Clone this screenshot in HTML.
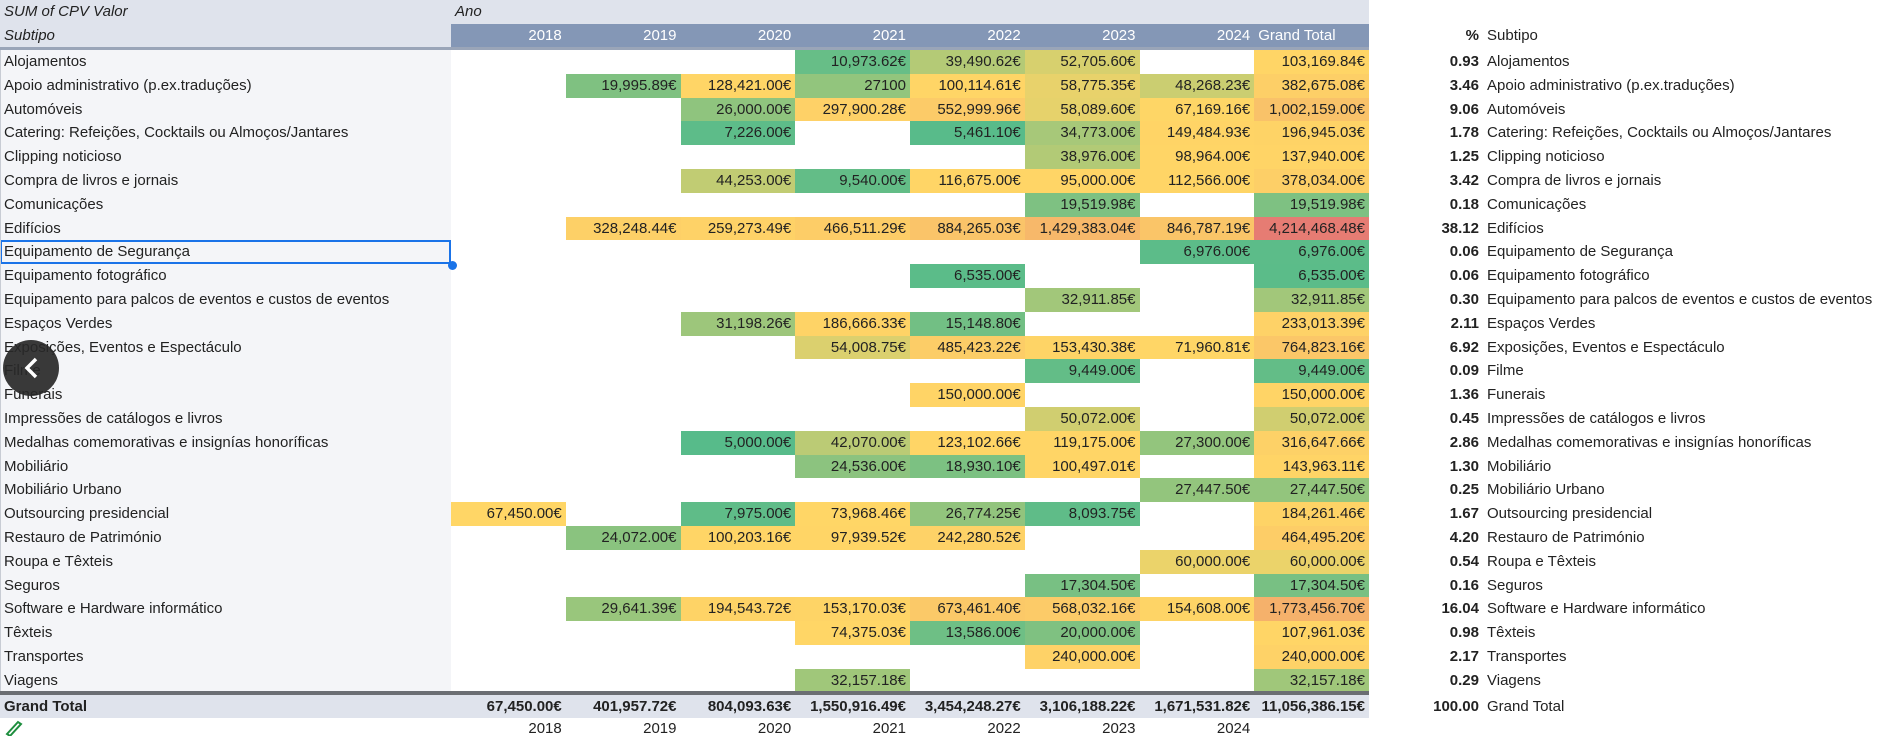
<!DOCTYPE html>
<html><head><meta charset="utf-8">
<style>
*{margin:0;padding:0;box-sizing:border-box}
body{width:1886px;height:736px;background:#fff;position:relative;overflow:hidden;font-family:"Liberation Sans",Arial,sans-serif;font-size:15px;color:#222}
.abs{position:absolute}
.hdr{background:#dfe3ec}
.row{position:absolute;left:0;height:23.8px;display:flex;align-items:center;white-space:nowrap}
.lab{width:451px;height:100%;padding-left:4px;line-height:23.8px;background:#f4f5f8}
.c{width:114.75px;height:100%;text-align:right;padding-right:4px;line-height:23.8px}
.p{position:absolute;left:1380px;width:99px;text-align:right;font-weight:bold;line-height:23.8px}
.s{position:absolute;left:1487px;line-height:23.8px}
.yh{position:absolute;top:24px;height:24px;width:114.75px;text-align:right;padding-right:4px;color:#fff;line-height:24px}
.by{position:absolute;top:718px;height:22px;width:114.75px;text-align:right;padding-right:4px;line-height:22px}
</style></head><body>
<div class="abs hdr" style="left:0;top:0;width:1369px;height:48px"></div>
<div class="abs" style="left:451px;top:24px;width:918px;height:24px;background:#8497b6"></div>
<div class="abs" style="left:0;top:47px;width:1369px;height:3px;background:#9aa5b8"></div>
<div class="abs" style="left:4px;top:0;line-height:24px;font-style:italic">SUM of CPV Valor</div>
<div class="abs" style="left:455px;top:0;line-height:24px;font-style:italic">Ano</div>
<div class="abs" style="left:4px;top:24px;line-height:24px;font-style:italic">Subtipo</div>
<div class="yh" style="left:451px">2018</div>
<div class="yh" style="left:565.75px">2019</div>
<div class="yh" style="left:680.5px">2020</div>
<div class="yh" style="left:795.25px">2021</div>
<div class="yh" style="left:910px">2022</div>
<div class="yh" style="left:1024.75px">2023</div>
<div class="yh" style="left:1139.5px">2024</div>
<div class="yh" style="left:1254.25px;text-align:left;padding-left:4px">Grand Total</div>
<div class="abs" style="left:1380px;top:24px;width:99px;text-align:right;font-weight:bold;line-height:24px">%</div>
<div class="abs" style="left:1487px;top:24px;line-height:24px">Subtipo</div>

<div id="rows" class="abs" style="left:0;top:50px;width:1886px;height:643px">
<div class="row" style="top:0px"><div class="lab">Alojamentos</div><div class="c"></div><div class="c"></div><div class="c"></div><div class="c" data-v="10973.62">10,973.62€</div><div class="c" data-v="39490.62">39,490.62€</div><div class="c" data-v="52705.60">52,705.60€</div><div class="c"></div><div class="c" data-v="103169.84">103,169.84€</div><span class="p">0.93</span><span class="s">Alojamentos</span></div>
<div class="row" style="top:23.8px"><div class="lab">Apoio administrativo (p.ex.traduções)</div><div class="c"></div><div class="c" data-v="19995.89">19,995.89€</div><div class="c" data-v="128421">128,421.00€</div><div class="c" data-v="27100">27100</div><div class="c" data-v="100114.61">100,114.61€</div><div class="c" data-v="58775.35">58,775.35€</div><div class="c" data-v="48268.23">48,268.23€</div><div class="c" data-v="382675.08">382,675.08€</div><span class="p">3.46</span><span class="s">Apoio administrativo (p.ex.traduções)</span></div>
<div class="row" style="top:47.6px"><div class="lab">Automóveis</div><div class="c"></div><div class="c"></div><div class="c" data-v="26000">26,000.00€</div><div class="c" data-v="297900.28">297,900.28€</div><div class="c" data-v="552999.96">552,999.96€</div><div class="c" data-v="58089.60">58,089.60€</div><div class="c" data-v="67169.16">67,169.16€</div><div class="c" data-v="1002159">1,002,159.00€</div><span class="p">9.06</span><span class="s">Automóveis</span></div>
<div class="row" style="top:71.4px"><div class="lab">Catering: Refeições, Cocktails ou Almoços/Jantares</div><div class="c"></div><div class="c"></div><div class="c" data-v="7226">7,226.00€</div><div class="c"></div><div class="c" data-v="5461.10">5,461.10€</div><div class="c" data-v="34773">34,773.00€</div><div class="c" data-v="149484.93">149,484.93€</div><div class="c" data-v="196945.03">196,945.03€</div><span class="p">1.78</span><span class="s">Catering: Refeições, Cocktails ou Almoços/Jantares</span></div>
<div class="row" style="top:95.2px"><div class="lab">Clipping noticioso</div><div class="c"></div><div class="c"></div><div class="c"></div><div class="c"></div><div class="c"></div><div class="c" data-v="38976">38,976.00€</div><div class="c" data-v="98964">98,964.00€</div><div class="c" data-v="137940">137,940.00€</div><span class="p">1.25</span><span class="s">Clipping noticioso</span></div>
<div class="row" style="top:119px"><div class="lab">Compra de livros e jornais</div><div class="c"></div><div class="c"></div><div class="c" data-v="44253">44,253.00€</div><div class="c" data-v="9540">9,540.00€</div><div class="c" data-v="116675">116,675.00€</div><div class="c" data-v="95000">95,000.00€</div><div class="c" data-v="112566">112,566.00€</div><div class="c" data-v="378034">378,034.00€</div><span class="p">3.42</span><span class="s">Compra de livros e jornais</span></div>
<div class="row" style="top:142.8px"><div class="lab">Comunicações</div><div class="c"></div><div class="c"></div><div class="c"></div><div class="c"></div><div class="c"></div><div class="c" data-v="19519.98">19,519.98€</div><div class="c"></div><div class="c" data-v="19519.98">19,519.98€</div><span class="p">0.18</span><span class="s">Comunicações</span></div>
<div class="row" style="top:166.6px"><div class="lab">Edifícios</div><div class="c"></div><div class="c" data-v="328248.44">328,248.44€</div><div class="c" data-v="259273.49">259,273.49€</div><div class="c" data-v="466511.29">466,511.29€</div><div class="c" data-v="884265.03">884,265.03€</div><div class="c" data-v="1429383.04">1,429,383.04€</div><div class="c" data-v="846787.19">846,787.19€</div><div class="c" data-v="4214468.48">4,214,468.48€</div><span class="p">38.12</span><span class="s">Edifícios</span></div>
<div class="row" style="top:190.4px"><div class="lab" style="box-shadow:inset 0 0 0 2px #1a73e8">Equipamento de Segurança</div><div class="c"></div><div class="c"></div><div class="c"></div><div class="c"></div><div class="c"></div><div class="c"></div><div class="c" data-v="6976">6,976.00€</div><div class="c" data-v="6976">6,976.00€</div><span class="p">0.06</span><span class="s">Equipamento de Segurança</span></div>
<div class="row" style="top:214.2px"><div class="lab">Equipamento fotográfico</div><div class="c"></div><div class="c"></div><div class="c"></div><div class="c"></div><div class="c" data-v="6535">6,535.00€</div><div class="c"></div><div class="c"></div><div class="c" data-v="6535">6,535.00€</div><span class="p">0.06</span><span class="s">Equipamento fotográfico</span></div>
<div class="row" style="top:238px"><div class="lab">Equipamento para palcos de eventos e custos de eventos</div><div class="c"></div><div class="c"></div><div class="c"></div><div class="c"></div><div class="c"></div><div class="c" data-v="32911.85">32,911.85€</div><div class="c"></div><div class="c" data-v="32911.85">32,911.85€</div><span class="p">0.30</span><span class="s">Equipamento para palcos de eventos e custos de eventos</span></div>
<div class="row" style="top:261.8px"><div class="lab">Espaços Verdes</div><div class="c"></div><div class="c"></div><div class="c" data-v="31198.26">31,198.26€</div><div class="c" data-v="186666.33">186,666.33€</div><div class="c" data-v="15148.80">15,148.80€</div><div class="c"></div><div class="c"></div><div class="c" data-v="233013.39">233,013.39€</div><span class="p">2.11</span><span class="s">Espaços Verdes</span></div>
<div class="row" style="top:285.6px"><div class="lab">Exposições, Eventos e Espectáculo</div><div class="c"></div><div class="c"></div><div class="c"></div><div class="c" data-v="54008.75">54,008.75€</div><div class="c" data-v="485423.22">485,423.22€</div><div class="c" data-v="153430.38">153,430.38€</div><div class="c" data-v="71960.81">71,960.81€</div><div class="c" data-v="764823.16">764,823.16€</div><span class="p">6.92</span><span class="s">Exposições, Eventos e Espectáculo</span></div>
<div class="row" style="top:309.4px"><div class="lab">Filme</div><div class="c"></div><div class="c"></div><div class="c"></div><div class="c"></div><div class="c"></div><div class="c" data-v="9449">9,449.00€</div><div class="c"></div><div class="c" data-v="9449">9,449.00€</div><span class="p">0.09</span><span class="s">Filme</span></div>
<div class="row" style="top:333.2px"><div class="lab">Funerais</div><div class="c"></div><div class="c"></div><div class="c"></div><div class="c"></div><div class="c" data-v="150000">150,000.00€</div><div class="c"></div><div class="c"></div><div class="c" data-v="150000">150,000.00€</div><span class="p">1.36</span><span class="s">Funerais</span></div>
<div class="row" style="top:357px"><div class="lab">Impressões de catálogos e livros</div><div class="c"></div><div class="c"></div><div class="c"></div><div class="c"></div><div class="c"></div><div class="c" data-v="50072">50,072.00€</div><div class="c"></div><div class="c" data-v="50072">50,072.00€</div><span class="p">0.45</span><span class="s">Impressões de catálogos e livros</span></div>
<div class="row" style="top:380.8px"><div class="lab">Medalhas comemorativas e insignías honoríficas</div><div class="c"></div><div class="c"></div><div class="c" data-v="5000">5,000.00€</div><div class="c" data-v="42070">42,070.00€</div><div class="c" data-v="123102.66">123,102.66€</div><div class="c" data-v="119175">119,175.00€</div><div class="c" data-v="27300">27,300.00€</div><div class="c" data-v="316647.66">316,647.66€</div><span class="p">2.86</span><span class="s">Medalhas comemorativas e insignías honoríficas</span></div>
<div class="row" style="top:404.6px"><div class="lab">Mobiliário</div><div class="c"></div><div class="c"></div><div class="c"></div><div class="c" data-v="24536">24,536.00€</div><div class="c" data-v="18930.10">18,930.10€</div><div class="c" data-v="100497.01">100,497.01€</div><div class="c"></div><div class="c" data-v="143963.11">143,963.11€</div><span class="p">1.30</span><span class="s">Mobiliário</span></div>
<div class="row" style="top:428.4px"><div class="lab">Mobiliário Urbano</div><div class="c"></div><div class="c"></div><div class="c"></div><div class="c"></div><div class="c"></div><div class="c"></div><div class="c" data-v="27447.50">27,447.50€</div><div class="c" data-v="27447.50">27,447.50€</div><span class="p">0.25</span><span class="s">Mobiliário Urbano</span></div>
<div class="row" style="top:452.2px"><div class="lab">Outsourcing presidencial</div><div class="c" data-v="67450">67,450.00€</div><div class="c"></div><div class="c" data-v="7975">7,975.00€</div><div class="c" data-v="73968.46">73,968.46€</div><div class="c" data-v="26774.25">26,774.25€</div><div class="c" data-v="8093.75">8,093.75€</div><div class="c"></div><div class="c" data-v="184261.46">184,261.46€</div><span class="p">1.67</span><span class="s">Outsourcing presidencial</span></div>
<div class="row" style="top:476px"><div class="lab">Restauro de Património</div><div class="c"></div><div class="c" data-v="24072">24,072.00€</div><div class="c" data-v="100203.16">100,203.16€</div><div class="c" data-v="97939.52">97,939.52€</div><div class="c" data-v="242280.52">242,280.52€</div><div class="c"></div><div class="c"></div><div class="c" data-v="464495.20">464,495.20€</div><span class="p">4.20</span><span class="s">Restauro de Património</span></div>
<div class="row" style="top:499.8px"><div class="lab">Roupa e Têxteis</div><div class="c"></div><div class="c"></div><div class="c"></div><div class="c"></div><div class="c"></div><div class="c"></div><div class="c" data-v="60000">60,000.00€</div><div class="c" data-v="60000">60,000.00€</div><span class="p">0.54</span><span class="s">Roupa e Têxteis</span></div>
<div class="row" style="top:523.6px"><div class="lab">Seguros</div><div class="c"></div><div class="c"></div><div class="c"></div><div class="c"></div><div class="c"></div><div class="c" data-v="17304.50">17,304.50€</div><div class="c"></div><div class="c" data-v="17304.50">17,304.50€</div><span class="p">0.16</span><span class="s">Seguros</span></div>
<div class="row" style="top:547.4px"><div class="lab">Software e Hardware informático</div><div class="c"></div><div class="c" data-v="29641.39">29,641.39€</div><div class="c" data-v="194543.72">194,543.72€</div><div class="c" data-v="153170.03">153,170.03€</div><div class="c" data-v="673461.40">673,461.40€</div><div class="c" data-v="568032.16">568,032.16€</div><div class="c" data-v="154608">154,608.00€</div><div class="c" data-v="1773456.70">1,773,456.70€</div><span class="p">16.04</span><span class="s">Software e Hardware informático</span></div>
<div class="row" style="top:571.2px"><div class="lab">Têxteis</div><div class="c"></div><div class="c"></div><div class="c"></div><div class="c" data-v="74375.03">74,375.03€</div><div class="c" data-v="13586">13,586.00€</div><div class="c" data-v="20000">20,000.00€</div><div class="c"></div><div class="c" data-v="107961.03">107,961.03€</div><span class="p">0.98</span><span class="s">Têxteis</span></div>
<div class="row" style="top:595px"><div class="lab">Transportes</div><div class="c"></div><div class="c"></div><div class="c"></div><div class="c"></div><div class="c"></div><div class="c" data-v="240000">240,000.00€</div><div class="c"></div><div class="c" data-v="240000">240,000.00€</div><span class="p">2.17</span><span class="s">Transportes</span></div>
<div class="row" style="top:618.8px"><div class="lab">Viagens</div><div class="c"></div><div class="c"></div><div class="c"></div><div class="c" data-v="32157.18">32,157.18€</div><div class="c"></div><div class="c"></div><div class="c"></div><div class="c" data-v="32157.18">32,157.18€</div><span class="p">0.29</span><span class="s">Viagens</span></div>
</div>
<div class="abs" style="left:0;top:50px;width:1px;height:642px;background:#c8ccd4"></div>
<div class="abs" style="left:448px;top:261px;width:9px;height:9px;border-radius:50%;background:#1a73e8"></div>

<div class="abs" style="left:0;top:691px;width:1369px;height:4px;background:#6b6e73"></div>
<div class="row hdr" style="top:695px;width:1369px;height:23px;font-weight:bold"><div class="lab" style="background:none">Grand Total</div><div class="c">67,450.00€</div><div class="c">401,957.72€</div><div class="c">804,093.63€</div><div class="c">1,550,916.49€</div><div class="c">3,454,248.27€</div><div class="c">3,106,188.22€</div><div class="c">1,671,531.82€</div><div class="c">11,056,386.15€</div></div>
<div class="abs" style="left:1380px;top:695px;width:99px;text-align:right;font-weight:bold;line-height:23px">100.00</div>
<div class="abs" style="left:1487px;top:695px;line-height:23px">Grand Total</div>

<div class="by" style="left:451px">2018</div>
<div class="by" style="left:565.75px">2019</div>
<div class="by" style="left:680.5px">2020</div>
<div class="by" style="left:795.25px">2021</div>
<div class="by" style="left:910px">2022</div>
<div class="by" style="left:1024.75px">2023</div>
<div class="by" style="left:1139.5px">2024</div>

<svg class="abs" style="left:2px;top:718px" width="24" height="18"><rect width="24" height="18" fill="#fff"/><path d="M5 16 L16 4 L19 6 L8 18 Z" fill="none" stroke="#1e8e3e" stroke-width="2"/></svg>

<div class="abs" style="left:3px;top:340px;width:56px;height:56px;border-radius:50%;background:rgba(40,40,40,0.92)"></div>
<svg class="abs" style="left:3px;top:340px" width="56" height="56"><path d="M33 19 L24 28 L33 37" fill="none" stroke="#fff" stroke-width="3.5"/></svg>

<script>
(function(){
var cells=[].slice.call(document.querySelectorAll('[data-v]'));
var vals=cells.map(function(c){return parseFloat(c.getAttribute('data-v'));}).sort(function(a,b){return a-b;});
var mn=vals[0],mx=vals[vals.length-1],md=vals[Math.floor(vals.length/2)];
var G=[87,187,138],Y=[255,214,102],R=[230,124,115];
function mix(a,b,t){return 'rgb('+a.map(function(x,i){return Math.round(x+(b[i]-x)*t);}).join(',')+')';}
cells.forEach(function(c){var v=parseFloat(c.getAttribute('data-v'));var col;
if(v<=md){col=mix(G,Y,(v-mn)/(md-mn));}else{col=mix(Y,R,(v-md)/(mx-md));}
c.style.background=col;});
})();
</script>
</body></html>
